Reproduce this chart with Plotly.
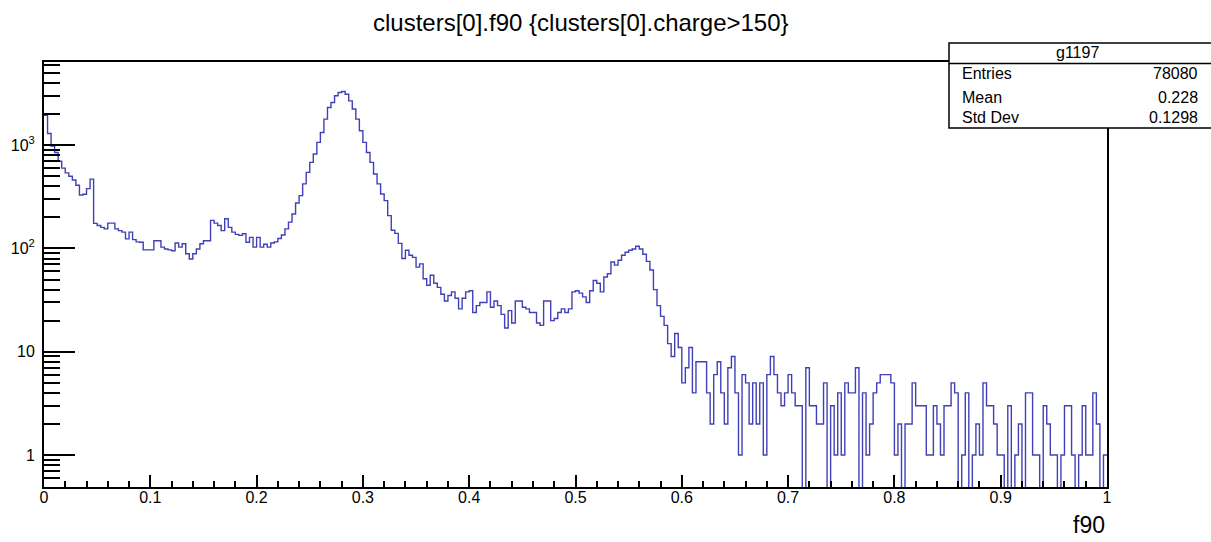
import plotly.graph_objects as go

# Histogram definition: 300 bins over [0, 1]
n_bins = 300
x_min, x_max = 0.0, 1.0

# Bin contents of clusters[0].f90 for clusters[0].charge > 150
counts = [
    1950, 1300, 980, 850, 700, 600, 540, 500, 460, 410, 330, 335, 380, 470, 175,
    167, 160, 155, 176, 176, 155, 149, 144, 124, 144, 122, 116, 115, 97, 97,
    97, 119, 119, 103, 99, 97, 95, 113, 103, 111, 89, 79, 89, 99, 111,
    119, 119, 187, 176, 167, 149, 194, 160, 144, 137, 134, 139, 115, 128, 103,
    128, 103, 110, 103, 113, 116, 125, 135, 155, 180, 216, 276, 325, 422, 546,
    682, 822, 1065, 1330, 1790, 2320, 2590, 3010, 3240, 3310, 3120, 2690, 2240, 1790, 1380,
    1065, 851, 682, 527, 422, 337, 291, 208, 150, 140, 112, 80, 96, 86, 82,
    66, 71, 51, 44, 55, 46, 42, 36, 31, 35, 38, 33, 26, 33, 38,
    39, 24, 28, 30, 30, 38, 27, 31, 28, 23, 17, 25, 19, 31, 31,
    27, 26, 24, 24, 19, 18, 31, 31, 20, 21, 24, 26, 24, 26, 38,
    39, 37, 34, 30, 39, 49, 46, 38, 53, 57, 74, 69, 77, 86, 92,
    96, 99, 105, 99, 88, 75, 62, 40, 28, 22, 18, 12, 9, 15, 11,
    5, 7, 11, 4, 8, 8, 8, 4, 2, 6, 8, 4, 2, 7, 9,
    4, 1, 6, 5, 2, 5, 2, 5, 1, 6, 9, 6, 4, 3, 4,
    6, 4, 3, 3, 0, 7, 3, 3, 2, 2, 5, 0, 3, 1, 4,
    1, 5, 4, 4, 7, 0, 4, 1, 2, 4, 5, 6, 6, 6, 5,
    1, 2, 0, 2, 2, 5, 3, 3, 3, 1, 1, 3, 2, 1, 3,
    3, 5, 4, 0, 1, 4, 0, 1, 2, 1, 5, 3, 3, 2, 1,
    1, 0, 3, 0, 1, 2, 0, 4, 4, 1, 1, 0, 3, 2, 1,
    1, 0, 1, 3, 3, 1, 0, 1, 3, 1, 1, 4, 2, 0, 1,
]

# Axis ticks
x_tick_vals = [0.0, 0.1, 0.2, 0.3, 0.4, 0.5, 0.6, 0.7, 0.8, 0.9, 1.0]
x_tick_text = ["0", "0.1", "0.2", "0.3", "0.4", "0.5", "0.6", "0.7", "0.8", "0.9", "1"]
y_tick_vals = [1, 10, 100, 1000]
y_tick_text = ["1", "10", "10<sup>2</sup>", "10<sup>3</sup>"]
y_minor_vals = ([0.6, 0.7, 0.8, 0.9]
                + [m * d for d in (1, 10, 100) for m in range(2, 10)]
                + [2000, 3000, 4000, 5000, 6000])

# Statistics box
stats_name = "g1197"
stats_labels = ["Entries", "Mean", "Std Dev"]
stats_values = ["78080", "0.228", "0.1298"]

title_text = "clusters[0].f90 {clusters[0].charge>150}"
x_title = "f90"

FONT = "Liberation Sans, Arial, Helvetica, sans-serif"
LINE_BLUE = "#4040b8"

# Step outline: one horizontal segment per bin, from its left to right edge
bin_w = (x_max - x_min) / n_bins
edges = [x_min + i * bin_w for i in range(n_bins + 1)]
# empty bins fall off the bottom of a log axis
floor_val = 1e-3
step_y = [c if c > 0 else floor_val for c in counts]
step_y = step_y + [step_y[-1]]

fig = go.Figure()
fig.add_trace(go.Scatter(
    x=edges, y=step_y, mode="lines", line_shape="hv",
    line=dict(color=LINE_BLUE, width=1.4),
    hoverinfo="skip", showlegend=False,
))

# Geometry of the frame in pixels
W, H = 1211, 542
ML, MR, MT, MB = 44, 104, 62, 55
PW, PH = W - ML - MR, H - MT - MB


def px_x(px):
    return (px - ML) / PW


def px_y(py):
    return (H - MB - py) / PH


fig.update_layout(
    width=W, height=H,
    margin=dict(l=ML, r=MR, t=MT, b=MB, pad=0),
    paper_bgcolor="white", plot_bgcolor="white",
    font=dict(family=FONT, color="black", size=15),
    showlegend=False,
    xaxis=dict(
        range=[x_min, x_max], tickvals=x_tick_vals, ticktext=x_tick_text,
        ticks="inside", ticklen=12, tickwidth=1.5, tickcolor="black",
        minor=dict(dtick=0.02, tick0=0, ticks="inside", ticklen=6,
                   tickwidth=1.5, tickcolor="black"),
        showline=True, linewidth=2, linecolor="black", mirror=True,
        showgrid=False, zeroline=False,
        tickfont=dict(size=16, family=FONT),
        ticklabelstandoff=-5,
    ),
    yaxis=dict(
        type="log", range=[-0.3097, 3.806],
        tickvals=y_tick_vals, ticktext=y_tick_text,
        ticks="inside", ticklen=31, tickwidth=1.5, tickcolor="black",
        minor=dict(tickvals=y_minor_vals, ticks="inside", ticklen=16,
                   tickwidth=1.5, tickcolor="black"),
        showline=True, linewidth=2, linecolor="black", mirror=True,
        showgrid=False, zeroline=False,
        tickfont=dict(size=16, family=FONT),
        ticklabelstandoff=4,
    ),
)

# Title and axis title
fig.add_annotation(
    text=title_text, x=px_x(581), y=px_y(23), xref="paper", yref="paper",
    xanchor="center", yanchor="middle", showarrow=False,
    font=dict(size=24, family=FONT),
)
fig.add_annotation(
    text=x_title, x=1.0, y=px_y(525), xref="paper", yref="paper",
    xanchor="right", yanchor="middle", showarrow=False,
    font=dict(size=23, family=FONT),
)

# Statistics box
bx0, bx1, by0, by1 = 949, 1216, 43, 128
fig.add_shape(type="rect", xref="paper", yref="paper",
              x0=px_x(bx0), x1=px_x(bx1), y0=px_y(by1), y1=px_y(by0),
              line=dict(color="black", width=1.5), fillcolor="white",
              layer="above")
fig.add_shape(type="line", xref="paper", yref="paper",
              x0=px_x(bx0), x1=px_x(bx1), y0=px_y(63.5), y1=px_y(63.5),
              line=dict(color="black", width=1.5), layer="above")
fig.add_annotation(
    text=stats_name, x=px_x(1077), y=px_y(53), xref="paper", yref="paper",
    xanchor="center", yanchor="middle", showarrow=False,
    font=dict(size=16, family=FONT),
)
row_y = [74, 97, 118]
for lab, val, ry in zip(stats_labels, stats_values, row_y):
    fig.add_annotation(
        text=lab, x=px_x(960), y=px_y(ry), xref="paper", yref="paper",
        xanchor="left", yanchor="middle", showarrow=False,
        font=dict(size=16, family=FONT),
    )
    fig.add_annotation(
        text=val, x=px_x(1200), y=px_y(ry), xref="paper", yref="paper",
        xanchor="right", yanchor="middle", showarrow=False,
        font=dict(size=16, family=FONT),
    )

fig.write_html("out.html")
